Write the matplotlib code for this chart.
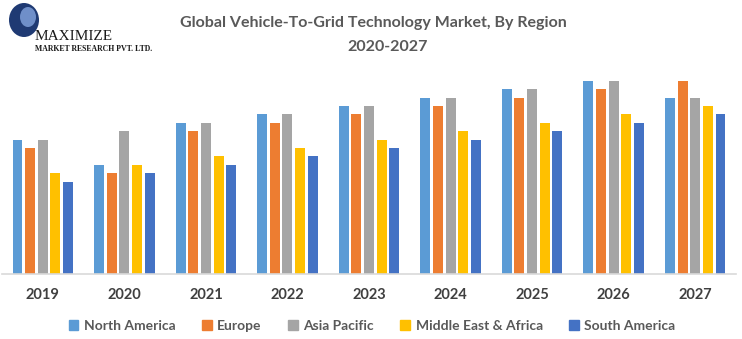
import numpy as np
import matplotlib
matplotlib.use("Agg")
import matplotlib.pyplot as plt
from matplotlib.patches import Ellipse, Patch

plt.rcParams['font.family'] = ['Lato', 'DejaVu Sans']

years = ["2019", "2020", "2021", "2022", "2023", "2024", "2025", "2026", "2027"]
regions = ["North America", "Europe", "Asia Pacific", "Middle East & Africa", "South America"]
north_america = [16, 13, 18, 19, 20, 21, 22, 23, 21]
europe = [15, 12, 17, 18, 19, 20, 21, 22, 23]
asia_pacific = [16, 17, 18, 19, 20, 21, 22, 23, 21]
middle_east_africa = [12, 13, 14, 15, 16, 17, 18, 19, 20]
south_america = [11, 12, 13, 14, 15, 16, 17, 18, 19]
colors = ["#5B9BD5", "#ED7D31", "#A5A5A5", "#FFC000", "#4472C4"]

series = [north_america, europe, asia_pacific, middle_east_africa, south_america]

W, H = 742, 339
fig = plt.figure(figsize=(W / 100, H / 100), dpi=100)
# axes: baseline at y=274px, top at 70px
ax = fig.add_axes([2 / W, (H - 274) / H, 734 / W, 204 / H])

x = np.arange(len(years))
pitch = 0.155
width = 0.122
for i, (vals, c) in enumerate(zip(series, colors)):
    ax.bar(x + (i - 2) * pitch, vals, width, color=c, label=regions[i])

ax.set_xlim(-0.5, 8.5)
ax.set_ylim(0, 204 / 8.4)
ax.set_xticks(x)
ax.set_xticklabels(years, fontsize=10.5, fontweight='bold', color='#404040')
ax.tick_params(axis='x', length=0, pad=10)
ax.set_yticks([])
for s in ['top', 'right', 'left']:
    ax.spines[s].set_visible(False)
ax.spines['bottom'].set_color('#D9D9D9')
ax.spines['bottom'].set_linewidth(1.2)

fig.text(0.503, 1 - 23 / H, "Global Vehicle-To-Grid Technology Market, By Region",
         ha='center', va='center', fontsize=11.5, fontweight='bold', color='#595959')
fig.text(0.522, 1 - 47 / H, "2020-2027",
         ha='center', va='center', fontsize=11.5, fontweight='bold', color='#595959')

handles = [Patch(color=c) for c in colors]
fig.legend(handles, regions, loc='center', bbox_to_anchor=(372 / W, 1 - 326 / H),
           ncol=5, frameon=False, handlelength=0.7, handleheight=0.7,
           handletextpad=0.4, columnspacing=1.9,
           prop={'size': 10, 'weight': 'bold'}, labelcolor='#595959')

# logo
fig.patches.append(Ellipse((24 / W, 1 - 20 / H), 30 / W, 34 / H, transform=fig.transFigure,
                           facecolor='#1F3A73', edgecolor='none'))
fig.patches.append(Ellipse((28 / W, 1 - 17 / H), 16 / W, 20 / H, transform=fig.transFigure,
                           facecolor='#6F8FC9', edgecolor='none'))
fig.text(35 / W, 1 - 37 / H, "MAXIMIZE", ha='left', va='center', fontsize=11,
         family=['Liberation Serif'], color='#1A1A1A')
fig.text(35 / W, 1 - 49 / H, "MARKET RESEARCH PVT. LTD.", ha='left', va='center', fontsize=5.6,
         family=['Liberation Serif'], fontweight='bold', color='#1A1A1A')

fig.savefig("out.png", dpi=100)
